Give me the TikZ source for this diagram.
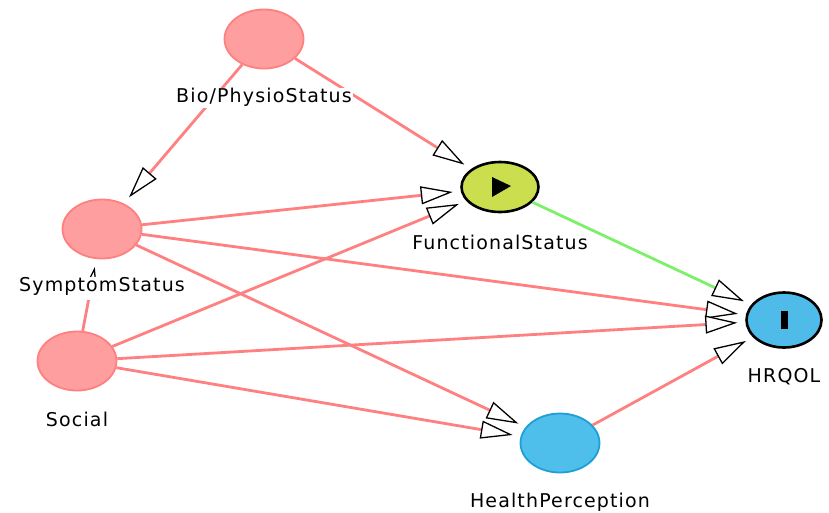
\documentclass[tikz,border=0pt]{standalone}
\usepackage{fontspec}
\newfontfamily\lblfont{DejaVu Sans}[LetterSpace=6]
\usetikzlibrary{positioning, arrows.meta, shapes.geometric}

\definecolor{pinkline}{RGB}{255,128,128}
\definecolor{pinkfill}{RGB}{255,158,158}
\definecolor{funcfill}{RGB}{202,222,78}
\definecolor{funcline}{RGB}{125,240,105}
\definecolor{hrqolfill}{RGB}{78,187,232}
\definecolor{percfill}{RGB}{78,190,234}
\definecolor{percline}{RGB}{30,160,215}

\tikzset{
	var/.style={ellipse, draw=pinkline, fill=pinkfill, line width=1.8pt, minimum width=79pt, minimum height=59pt, inner sep=0},
	lbl/.style={fill=white, inner sep=1pt, font=\lblfont\fontsize{19}{22}\selectfont, text height=14pt, text depth=4pt},
	link/.style={draw=pinkline, line width=2.8pt, shorten >=8pt, -{Triangle[length=32pt, width=18pt, line width=1.3pt, color=black, fill=white]}}
}

\begin{document}
\begin{tikzpicture}[x=1pt, y=-1pt]
		\useasboundingbox (0,0) rectangle (829,512);
		
		\node[var] (bio) at (264,39) {};
		\node[var] (symptom) at (102,229) {};
		\node[var] (social) at (77,361) {};
		\node[var, draw=black, fill=funcfill, line width=2.6pt, minimum width=77pt, minimum height=50pt] (func) at (500,187) {};
		\node[var, draw=black, fill=hrqolfill, line width=2.6pt, minimum width=75pt, minimum height=55pt] (hrqol) at (784,320) {};
		\node[var, draw=percline, fill=percfill] (perc) at (560,443) {};
		
		% play and bar marks
		\fill ([shift={(-8,-10)}]func.center) -- ([shift={(-8,10)}]func.center) -- ([shift={(11,-1)}]func.center) -- cycle;
		\node[fill=black, minimum width=7pt, minimum height=18pt, inner sep=0] (hrqol-bar) at (hrqol) {};
		
		\draw[link] (bio) -- (symptom);
		\draw[link] (bio) -- (func);
		\draw[link] (symptom) -- (func);
		\draw[link] (symptom) -- (hrqol);
		\draw[link] (symptom) -- (perc);
		\draw[link] (social) -- (symptom);
		\draw[link] (social) -- (func);
		\draw[link] (social) -- (hrqol);
		\draw[link] (social) -- (perc);
		\draw[link, draw=funcline] (func) -- (hrqol);
		\draw[link] (perc) -- (hrqol);
		
		% labels on top of the lines
		\node[lbl, below = 18pt of bio] (bio-txt) {Bio/PhysioStatus};
		\node[lbl, below = 17pt of symptom, text depth=7pt] (symptom-txt) {SymptomStatus};
		\node[lbl, below = 20pt of social] (social-txt) {Social};
		\node[lbl, below = 21pt of func] (func-txt) {FunctionalStatus};
		\node[lbl, below = 18pt of hrqol] (hrqol-txt) {HRQOL};
		\node[lbl, below = 19pt of perc] (perc-txt) {HealthPerception};

	\end{tikzpicture}
\end{document}
